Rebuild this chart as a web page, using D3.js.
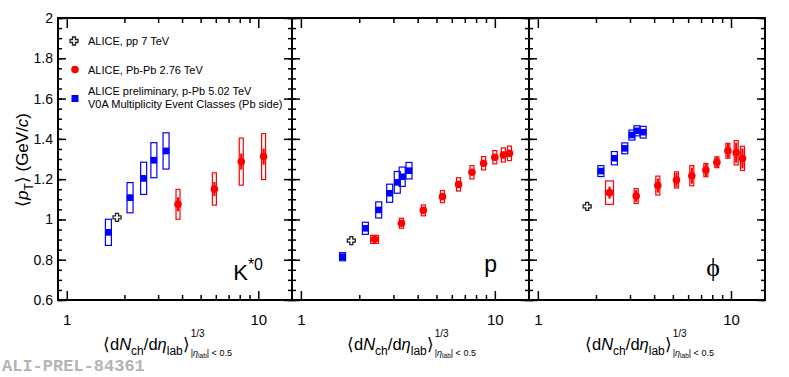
<!DOCTYPE html>
<html>
<head>
<meta charset="utf-8" />
<title>mean pT vs multiplicity</title>
<script src="https://d3js.org/d3.v7.min.js"></script>
<style>
  body { margin: 0; background: #fff; }
  text { font-family: "Liberation Sans", Arial, sans-serif; }
</style>
</head>
<body>
<svg id="chart"></svg>
<script>
// x: <dNch/deta_lab>^(1/3), y: <pT> in GeV/c
var yTicks = [0.6, 0.8, 1, 1.2, 1.4, 1.6, 1.8, 2];
var xTicks = [1, 10];
var xMinor = [2, 3, 4, 5, 6, 7, 8, 9];

// ALICE pp 7 TeV (one point in each panel: K*0, p, phi)
var ppX = [1.83, 1.82, 1.80];
var ppY = [1.01, 0.895, 1.065];
var ppSys = [0.008, 0.01, 0.01];

// K*0
var kstarPPbX = [1.65, 2.14, 2.52, 2.85, 3.30];
var kstarPPbY = [0.936, 1.108, 1.204, 1.294, 1.34];
var kstarPPbSys = [0.065, 0.075, 0.08, 0.087, 0.09];
var kstarPPbStat = [0.015, 0.015, 0.015, 0.015, 0.015];
var kstarPbPbX = [3.81, 5.9, 8.15, 10.66];
var kstarPbPbY = [1.075, 1.151, 1.287, 1.312];
var kstarPbPbSys = [0.074, 0.08, 0.117, 0.114];
var kstarPbPbStat = [0.035, 0.035, 0.04, 0.04];

// proton
var protonPPbX = [1.64, 2.15, 2.52, 2.87, 3.14, 3.33, 3.61];
var protonPPbY = [0.815, 0.956, 1.047, 1.13, 1.184, 1.212, 1.242];
var protonPPbSys = [0.02, 0.03, 0.04, 0.045, 0.054, 0.048, 0.041];
var protonPPbStat = [0.006, 0.006, 0.006, 0.006, 0.006, 0.006, 0.006];
var protonPbPbX = [2.40, 3.30, 4.28, 5.37, 6.5, 7.62, 8.75, 10.0, 11.06, 11.9];
var protonPbPbY = [0.901, 0.981, 1.045, 1.113, 1.174, 1.234, 1.279, 1.309, 1.32, 1.328];
var protonPbPbSys = [0.02, 0.025, 0.027, 0.03, 0.033, 0.033, 0.033, 0.033, 0.035, 0.036];
var protonPbPbStat = [0.012, 0.012, 0.012, 0.012, 0.014, 0.014, 0.014, 0.016, 0.016, 0.016];

// phi
var phiPPbX = [2.12, 2.49, 2.82, 3.07, 3.26, 3.51];
var phiPPbY = [1.24, 1.304, 1.353, 1.419, 1.44, 1.433];
var phiPPbSys = [0.027, 0.033, 0.027, 0.025, 0.025, 0.029];
var phiPPbStat = [0.01, 0.01, 0.01, 0.01, 0.01, 0.01];
var phiPbPbX = [2.35, 3.23, 4.18, 5.22, 6.27, 7.41, 8.45, 9.64, 10.64, 11.47];
var phiPbPbY = [1.133, 1.116, 1.168, 1.196, 1.217, 1.245, 1.284, 1.341, 1.331, 1.303];
var phiPbPbSys = [0.058, 0.037, 0.047, 0.04, 0.05, 0.033, 0.027, 0.037, 0.06, 0.06];
var phiPbPbStat = [0.03, 0.03, 0.035, 0.035, 0.04, 0.03, 0.025, 0.035, 0.05, 0.05];

function zip(xs, ys, sys, stat) {
  return xs.map(function(x, i) {
    return {x: x, y: ys[i], sys: sys[i], stat: stat ? stat[i] : 0};
  });
}

var panels = [
  {name: "kstar", pPb: zip(kstarPPbX, kstarPPbY, kstarPPbSys, kstarPPbStat),
   PbPb: zip(kstarPbPbX, kstarPbPbY, kstarPbPbSys, kstarPbPbStat)},
  {name: "p", pPb: zip(protonPPbX, protonPPbY, protonPPbSys, protonPPbStat),
   PbPb: zip(protonPbPbX, protonPbPbY, protonPbPbSys, protonPbPbStat)},
  {name: "phi", pPb: zip(phiPPbX, phiPPbY, phiPPbSys, phiPPbStat),
   PbPb: zip(phiPbPbX, phiPbPbY, phiPbPbSys, phiPbPbStat)}
];
panels.forEach(function(p, i) {
  p.pp = zip([ppX[i]], [ppY[i]], [ppSys[i]]);
});

var width = 789, height = 377;
var plotTop = 18, plotBottom = 300;
var edges = [58, 292, 529, 765];
var titleStart = [103, 347, 585];
var red = "#ff0000", blue = "#0000ff";

var svg = d3.select("#chart").attr("width", width).attr("height", height);

var y = d3.scaleLinear().domain([0.6, 2]).range([plotBottom, plotTop]);

var crossPath = "M-1.5,-4L1.5,-4L1.5,-1.5L4,-1.5L4,1.5L1.5,1.5L1.5,4L-1.5,4L-1.5,1.5L-4,1.5L-4,-1.5L-1.5,-1.5Z";

panels.forEach(function(panel, pi) {
  var x0 = edges[pi], x1 = edges[pi + 1];
  var x = d3.scaleLog().domain([0.9, 15]).range([x0, x1]);
  var g = svg.append("g").attr("class", "panel");

  // x axes (bottom with labels, top without)
  var bottomAxis = g.append("g")
    .attr("transform", "translate(0," + plotBottom + ")")
    .call(d3.axisBottom(x).tickValues(xTicks).tickSize(-9).tickPadding(14)
      .tickFormat(d3.format("d")));
  bottomAxis.selectAll("text").style("font-size", "15px")
    .style("font-family", "'Liberation Sans', Arial, sans-serif");
  g.append("g").attr("transform", "translate(0," + plotBottom + ")")
    .call(d3.axisBottom(x).tickValues(xMinor).tickSize(-5).tickFormat(""));
  g.append("g").attr("transform", "translate(0," + plotTop + ")")
    .call(d3.axisTop(x).tickValues(xTicks).tickSize(-10).tickFormat(""));
  g.append("g").attr("transform", "translate(0," + plotTop + ")")
    .call(d3.axisTop(x).tickValues(xMinor).tickSize(-5).tickFormat(""));

  // y axes, left (labels only in the first panel) and right
  var leftAxis = g.append("g").attr("transform", "translate(" + x0 + ",0)")
    .call(d3.axisLeft(y).tickValues(yTicks).tickSize(-8).tickPadding(5)
      .tickFormat(pi === 0 ? d3.format("~g") : ""));
  leftAxis.selectAll("text").style("font-size", "14px")
    .style("font-family", "'Liberation Sans', Arial, sans-serif");
  g.append("g").attr("transform", "translate(" + x0 + ",0)")
    .call(d3.axisLeft(y).ticks(28).tickSize(-4).tickFormat(""));
  g.append("g").attr("transform", "translate(" + x1 + ",0)")
    .call(d3.axisRight(y).tickValues(yTicks).tickSize(-8).tickFormat(""));
  g.append("g").attr("transform", "translate(" + x1 + ",0)")
    .call(d3.axisRight(y).ticks(28).tickSize(-4).tickFormat(""));

  g.selectAll(".domain").remove();
  g.selectAll(".tick line").attr("stroke", "#000").attr("stroke-width", 1.5);

  g.append("rect")
    .attr("x", x0).attr("y", plotTop)
    .attr("width", x1 - x0).attr("height", plotBottom - plotTop)
    .attr("fill", "none").attr("stroke", "#000").attr("stroke-width", 2);

  // pp reference
  g.selectAll(".ppbox").data(panel.pp).enter().append("rect")
    .attr("x", function(d) { return x(d.x) - 4; })
    .attr("y", function(d) { return y(d.y + d.sys); })
    .attr("width", 8)
    .attr("height", function(d) { return y(d.y - d.sys) - y(d.y + d.sys); })
    .attr("fill", "#c8c8c8");
  g.selectAll(".ppmark").data(panel.pp).enter().append("path")
    .attr("d", crossPath)
    .attr("transform", function(d) { return "translate(" + x(d.x) + "," + y(d.y) + ")"; })
    .attr("fill", "#fff").attr("stroke", "#222").attr("stroke-width", 1.3);

  // systematic boxes, stat bars, markers
  function drawSeries(data, color, boxW, kind) {
    g.selectAll(null).data(data).enter().append("rect")
      .attr("x", function(d) { return x(d.x) - (kind === "circle" && d.x < 3 ? 4 : boxW / 2); })
      .attr("y", function(d) { return y(d.y + d.sys); })
      .attr("width", function(d) { return kind === "circle" && d.x < 3 ? 8 : boxW; })
      .attr("height", function(d) { return y(d.y - d.sys) - y(d.y + d.sys); })
      .attr("fill", "none").attr("stroke", color).attr("stroke-width", 1.2);
    g.selectAll(null).data(data).enter().append("line")
      .attr("x1", function(d) { return x(d.x); })
      .attr("x2", function(d) { return x(d.x); })
      .attr("y1", function(d) { return y(d.y + d.stat); })
      .attr("y2", function(d) { return y(d.y - d.stat); })
      .attr("stroke", color).attr("stroke-width", 2.2);
    if (kind === "circle") {
      g.selectAll(null).data(data).enter().append("circle")
        .attr("cx", function(d) { return x(d.x); })
        .attr("cy", function(d) { return y(d.y); })
        .attr("r", 3.8).attr("fill", color);
    } else {
      g.selectAll(null).data(data).enter().append("rect")
        .attr("x", function(d) { return x(d.x) - 3.3; })
        .attr("y", function(d) { return y(d.y) - 3.3; })
        .attr("width", 6.6).attr("height", 6.6).attr("fill", color);
    }
  }
  drawSeries(panel.PbPb, red, 4, "circle");
  drawSeries(panel.pPb, blue, 6, "square");

  // x-axis title
  var tx = titleStart[pi];
  var title = g.append("text").attr("x", tx).attr("y", 350).style("font-size", "16.5px");
  title.append("tspan").text("\u27E8d");
  title.append("tspan").style("font-style", "italic").text("N");
  title.append("tspan").attr("dy", 5).style("font-size", "12px").text("ch");
  title.append("tspan").attr("dy", -5).text("/d");
  title.append("tspan").style("font-style", "italic").text("\u03B7");
  title.append("tspan").attr("dy", 5).style("font-size", "12px").text("lab");
  title.append("tspan").attr("dy", -5).text("\u27E9");
  var tw = title.node().getComputedTextLength();
  g.append("text").attr("x", tx + tw + 1).attr("y", 337)
    .style("font-size", "10px").text("1/3");
  var sub = g.append("text").attr("x", tx + tw + 1).attr("y", 356).style("font-size", "9px");
  sub.append("tspan").text("|");
  sub.append("tspan").style("font-style", "italic").text("\u03B7");
  sub.append("tspan").attr("dy", 2).style("font-size", "6.5px").text("lab");
  sub.append("tspan").attr("dy", -2).text("| < 0.5");
});

// particle labels
var kLabel = svg.append("text").attr("x", 263).attr("y", 280)
  .attr("text-anchor", "end").style("font-size", "22px");
kLabel.append("tspan").text("K");
kLabel.append("tspan").attr("dy", -10).style("font-size", "16px").text("*0");
svg.append("text").attr("x", 497).attr("y", 272)
  .attr("text-anchor", "end").style("font-size", "23px").text("p");
svg.append("text").attr("x", 720).attr("y", 276)
  .attr("text-anchor", "end").style("font-size", "26px")
  .style("font-family", "'Liberation Serif', serif").text("\u03D5");

// legend
var legend = svg.append("g").style("font-size", "11px");
legend.append("path").attr("d", crossPath)
  .attr("transform", "translate(74,41)")
  .attr("fill", "#fff").attr("stroke", "#222").attr("stroke-width", 1.3);
legend.append("text").attr("x", 88).attr("y", 45).text("ALICE, pp 7 TeV");
legend.append("circle").attr("cx", 75).attr("cy", 69.5).attr("r", 3.8).attr("fill", red);
legend.append("text").attr("x", 88).attr("y", 74).text("ALICE, Pb-Pb 2.76 TeV");
legend.append("rect").attr("x", 71.5).attr("y", 95).attr("width", 7).attr("height", 7).attr("fill", blue);
legend.append("text").attr("x", 88).attr("y", 95).text("ALICE preliminary, p-Pb 5.02 TeV");
legend.append("text").attr("x", 88).attr("y", 108).text("V0A Multiplicity Event Classes (Pb side)");

// y-axis title
var yTitle = svg.append("text")
  .attr("transform", "translate(28,160) rotate(-90)")
  .attr("text-anchor", "middle").style("font-size", "17px");
yTitle.append("tspan").text("\u27E8");
yTitle.append("tspan").style("font-style", "italic").text("p");
yTitle.append("tspan").attr("dy", 5).style("font-size", "12px").text("T");
yTitle.append("tspan").attr("dy", -5).text("\u27E9 (GeV/");
yTitle.append("tspan").style("font-style", "italic").text("c");
yTitle.append("tspan").text(")");

// preliminary tag
svg.append("text").attr("x", 2).attr("y", 371)
  .style("font-family", "'Liberation Mono', 'DejaVu Sans Mono', monospace")
  .style("font-size", "17px").style("font-weight", "bold")
  .attr("fill", "#b4b4b4").text("ALI-PREL-84361");
</script>
</body>
</html>
